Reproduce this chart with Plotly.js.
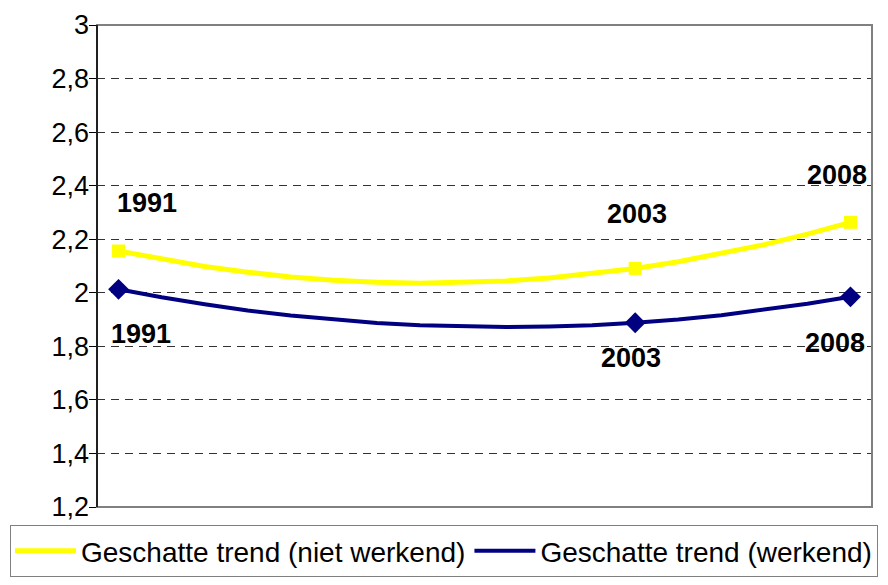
<!DOCTYPE html>
<html>
<head>
<meta charset="utf-8">
<script src="https://cdn.plot.ly/plotly-3.0.1.min.js"></script>
<style>
html,body{margin:0;padding:0;background:#fff;}
#chart{width:888px;height:585px;}
</style>
</head>
<body>
<div id="chart"></div>
<script>
// Years (categories)
var years = [1991,1992,1993,1994,1995,1996,1997,1998,1999,2000,2001,2002,2003,2004,2005,2006,2007,2008];
// Geschatte trend (niet werkend)
var nietWerkend = [2.156,2.125,2.098,2.077,2.059,2.047,2.039,2.036,2.038,2.044,2.055,2.071,2.091,2.116,2.146,2.180,2.219,2.263];
// Geschatte trend (werkend)
var werkend = [2.013,1.983,1.957,1.934,1.915,1.900,1.887,1.879,1.874,1.872,1.874,1.879,1.888,1.900,1.916,1.936,1.959,1.985];
// Years that carry a marker and a label
var markedYears = [1991,2003,2008];
var seriesNames = ['Geschatte trend (niet werkend)','Geschatte trend (werkend)'];

var FONT = 'Liberation Sans, Arial, sans-serif';
var YELLOW = '#FFFF00';
var NAVY = '#000080';

function pick(arr){
  return markedYears.map(function(y){ return arr[years.indexOf(y)]; });
}

var traces = [
  {x: years, y: nietWerkend, type:'scatter', mode:'lines', name: seriesNames[0],
   line:{color:YELLOW, width:5}},
  {x: years, y: werkend, type:'scatter', mode:'lines', name: seriesNames[1],
   line:{color:NAVY, width:4}},
  {x: markedYears, y: pick(nietWerkend), type:'scatter', mode:'markers', showlegend:false,
   marker:{symbol:'square', size:13, color:YELLOW}, hoverinfo:'skip'},
  {x: markedYears, y: pick(werkend), type:'scatter', mode:'markers', showlegend:false,
   marker:{symbol:'diamond', size:16, color:NAVY}, hoverinfo:'skip'}
];

// label offsets (positions only)
var labelPos = [
  {ax:0.66, ay:2.335, bx:0.52, by:1.846},
  {ax:0.04, ay:2.294, bx:-0.10, by:1.756},
  {ax:-0.31, ay:2.440, bx:-0.36, by:1.812}
];
var annotations = [];
markedYears.forEach(function(yr, i){
  var p = labelPos[i];
  annotations.push({x: yr + p.ax, y: p.ay, xref:'x', yref:'y', text: String(yr), showarrow:false,
    font:{family:FONT, size:27, color:'#000', weight:'bold'}, xanchor:'center', yanchor:'middle'});
  annotations.push({x: yr + p.bx, y: p.by, xref:'x', yref:'y', text: String(yr), showarrow:false,
    font:{family:FONT, size:27, color:'#000', weight:'bold'}, xanchor:'center', yanchor:'middle'});
});

var layout = {
  width: 888, height: 585,
  margin: {l:97, r:16, t:25, b:78, pad:0, autoexpand:false},
  paper_bgcolor:'#fff', plot_bgcolor:'#fff',
  separators: ',.',
  font:{family:FONT, size:26, color:'#000'},
  showlegend: true,
  legend:{orientation:'h', xref:'paper', yref:'paper', x:-(97-10)/775, xanchor:'left',
    y:-(525-507)/482, yanchor:'top', bordercolor:'#808080', borderwidth:1, bgcolor:'#fff',
    font:{family:FONT, size:28, color:'#000'}, itemwidth:60, tracegroupgap:0},
  xaxis:{range:[1990.5, 2008.5], showgrid:false, zeroline:false, showticklabels:false,
    ticks:'', showline:false, fixedrange:true},
  yaxis:{range:[1.2, 3], dtick:0.2, tick0:1.2, showgrid:true, gridcolor:'#333333', gridwidth:1,
    griddash:'8px,6px', zeroline:false, showline:true, linecolor:'#000', linewidth:1.5,
    ticks:'outside', ticklen:7, tickcolor:'#000', tickwidth:1,
    tickfont:{family:FONT, size:27, color:'#000'}, ticklabelstandoff:-6, fixedrange:true},
  shapes:[{type:'rect', xref:'paper', yref:'paper', x0:0, x1:1, y0:0, y1:1,
    line:{color:'#808080', width:2}, fillcolor:'rgba(0,0,0,0)', layer:'above'},
    {type:'line', xref:'paper', yref:'paper', x0:0, x1:0, y0:0, y1:1,
    line:{color:'#000', width:1.5}, layer:'above'}],
  annotations: annotations
};

Plotly.newPlot('chart', traces, layout, {displayModeBar:false, staticPlot:true}).then(function(gd){
  // stretch legend line swatches to the full item width (Excel style)
  var items = gd.querySelectorAll('.legend .traces');
  items.forEach(function(item){
    var path = item.querySelector('.legendlines path');
    var text = item.querySelector('text.legendtext');
    if(!path || !text) return;
    var tb = text.getBoundingClientRect();
    var ctm = path.getScreenCTM();
    if(!ctm) return;
    var inv = ctm.inverse();
    var svg = path.ownerSVGElement;
    var p1 = svg.createSVGPoint(); p1.x = tb.left - 66; p1.y = 0;
    var p2 = svg.createSVGPoint(); p2.x = tb.left - 5; p2.y = 0;
    var a = p1.matrixTransform(inv), b = p2.matrixTransform(inv);
    path.setAttribute('d', 'M' + a.x.toFixed(1) + ',0H' + b.x.toFixed(1));
  });
});
</script>
</body>
</html>
